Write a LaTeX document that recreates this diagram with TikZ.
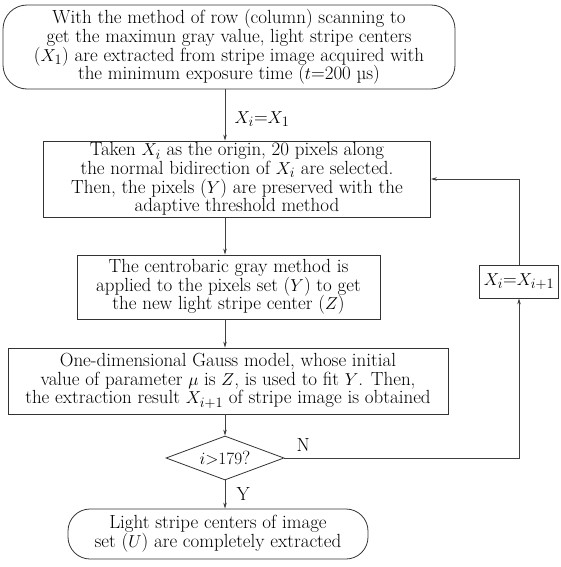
\documentclass[tikz,border=0pt]{standalone}
\usetikzlibrary{shapes.geometric, arrows.meta}
\newcommand{\flowfont}{\fontsize{19}{18.6}\selectfont\lineskiplimit=-50pt\relax}

\begin{document}
\begin{tikzpicture}[x=1pt, y=-1pt,
  every node/.style={font=\flowfont},
  box/.style={rectangle, draw=black!80, line width=0.8pt, align=center, inner sep=1pt},
  termbox/.style={box, rounded corners=24pt},
  decision/.style={diamond, draw=black!80, line width=0.8pt, inner sep=0pt,
                   minimum width=118pt, minimum height=44pt, aspect=2.7},
  arr/.style={-{Stealth[length=6pt, width=3.5pt]}, draw=black!75, line width=0.7pt},
]
\useasboundingbox (0,0) rectangle (560,567);

%% MAIN COLUMN
\node[termbox, minimum width=452pt, minimum height=84pt] (start) at (229,47)
  {With the method of row (column) scanning to\\
   get the maximun gray value, light stripe centers\\
   ($X_1$) are extracted from stripe image acquired with\\
   the minimum exposure time ($t$=200 \textmu s)};
\node[box, minimum width=387pt, minimum height=76pt] (select) at (237,179)
  {Taken $X_i$ as the origin, 20 pixels along\\
   the normal bidirection of $X_i$ are selected.\\
   Then, the pixels ($Y$) are preserved with the\\
   adaptive threshold method};
\node[box, minimum width=303pt, minimum height=64pt] (centro) at (228.5,287)
  {The centrobaric gray method is\\
   applied to the pixels set ($Y$) to get\\
   the new light stripe center ($Z$)};
\node[box, minimum width=440pt, minimum height=66pt] (gauss) at (228,381)
  {One-dimensional Gauss model, whose initial\\
   value of parameter $\mu$ is $Z$, is used to fit $Y$. Then,\\
   the extraction result $X_{i+1}$ of stripe image is obtained};
\node[decision] (check) at (225,458) {$i{>}179$?};
\node[termbox, rounded corners=22pt, minimum width=300pt, minimum height=50pt] (done) at (218,534)
  {Light stripe centers of image\\
   set ($U$) are completely extracted};

%% LOOP
\node[box, minimum width=79pt, minimum height=33pt] (update) at (519,281.5) {$X_i$=$X_{i+1}$};
\coordinate (spine) at (225,0);

%% ARROWS
\draw[arr] (spine |- start.south) -- node[right, pos=0.58, xshift=6pt]{$X_i$=$X_1$} (spine |- select.north);
\draw[arr] (spine |- select.south) -- (spine |- centro.north);
\draw[arr] (spine |- centro.south) -- (spine |- gauss.north);
\draw[arr] (spine |- gauss.south) -- (check.north);
\draw[arr] (check.south) -- node[right, xshift=8pt]{Y} (check.south |- done.north);
\draw[arr] (check.east) -| node[pos=0.04, above, yshift=3pt]{N} (update.south);
\draw[arr] (update.north) |- (select.east);
\end{tikzpicture}
\end{document}
